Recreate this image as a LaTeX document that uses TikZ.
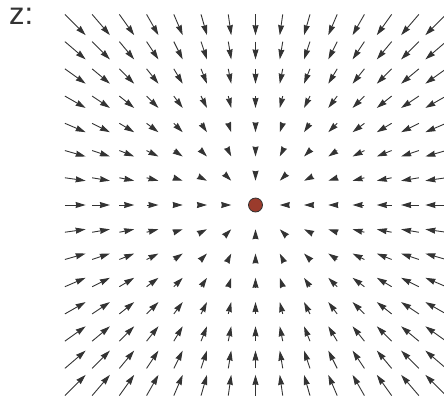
\documentclass[tikz,border=0pt]{standalone}
\usepackage{fontspec}
\setmainfont{Liberation Sans}
\usetikzlibrary{arrows.meta}
\definecolor{FieldGrey}{HTML}{333333}
\definecolor{SinkBrown}{HTML}{9B3B2C}
\tikzset{
  fieldarrow/.style={draw=FieldGrey,line width=0.9pt,
    -{Stealth[inset=0.6pt,length=10pt,width=6pt]}},
  sinkdot/.style={circle,fill=SinkBrown,draw=FieldGrey,line width=0.8pt,
    minimum size=14pt,inner sep=0pt}
}
\begin{document}
\begin{tikzpicture}[x=1pt,y=-1pt]
  \useasboundingbox (0,0) rectangle (444,400);
  \node[anchor=base west,inner sep=0pt,text=FieldGrey,text height=17pt,
        font=\fontsize{31}{36}\selectfont] (zlabel) at (9,24) {z:};
  % field pointing into the sink
  \foreach \i in {-7,...,7}{
    \foreach \j in {-7,...,7}{
      \ifnum\numexpr\i*\i+\j*\j\relax>0
        \draw[fieldarrow] ({255.5+25.75*\i+1.48*\i},{205+25.75*\j+1.48*\j})
          -- ({255.5+25.75*\i-1.48*\i},{205+25.75*\j-1.48*\j});
      \fi
    }
  }
  \node[sinkdot] (sink) at (255.5,205) {};
\end{tikzpicture}
\end{document}
